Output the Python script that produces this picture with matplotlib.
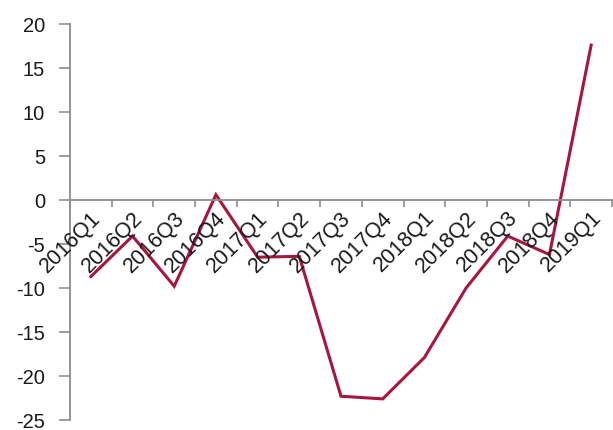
import matplotlib
matplotlib.use("Agg")
import matplotlib.pyplot as plt
import matplotlib.transforms as mtransforms
import numpy as np

quarters = ["2016Q1", "2016Q2", "2016Q3", "2016Q4", "2017Q1", "2017Q2", "2017Q3",
            "2017Q4", "2018Q1", "2018Q2", "2018Q3", "2018Q4", "2019Q1"]
values = [-8.7, -4.1, -9.8, 0.6, -6.5, -6.4, -22.3, -22.6, -17.9, -10.0, -4.1, -6.2, 17.6]
y_ticks = [20, 15, 10, 5, 0, -5, -10, -15, -20, -25]

LINE_COLOR = "#A5173F"
AXIS_COLOR = "#8c8c8c"

plt.rcParams["font.family"] = ["Liberation Sans", "DejaVu Sans"]

fig = plt.figure(figsize=(6.13, 4.30), dpi=100)
ax = fig.add_axes([70 / 613, 10 / 430, 542 / 613, 396 / 430])

x = np.arange(len(quarters))
ax.plot(x, values, color=LINE_COLOR, linewidth=2.2, solid_joinstyle="miter")

ax.set_xlim(-0.5, len(quarters) - 0.5)
ax.set_ylim(-25, 20)
ax.set_yticks(y_ticks)
ax.set_yticklabels([str(v) for v in y_ticks], fontsize=14.5, color="#1a1a1a")

# category axis sits at zero, ticks between categories
for side in ("top", "right"):
    ax.spines[side].set_visible(False)
ax.spines["bottom"].set_position(("data", 0))
for side in ("left", "bottom"):
    ax.spines[side].set_color(AXIS_COLOR)
    ax.spines[side].set_linewidth(1.3)

ax.set_xticks(np.arange(-0.5, len(quarters) + 0.5, 1))
ax.set_xticklabels([])
ax.tick_params(axis="x", direction="out", length=5, width=1.2, color=AXIS_COLOR)
ax.tick_params(axis="y", direction="out", length=8, width=1.2, color=AXIS_COLOR, pad=10)

offset = mtransforms.ScaledTranslation(7 / 100, -15 / 100, fig.dpi_scale_trans)
for i, q in enumerate(quarters):
    ax.text(i, 0, q, transform=ax.transData + offset, rotation=45,
            rotation_mode="anchor", ha="right", va="center",
            fontsize=15.5, color="#1a1a1a")

fig.savefig("out.png", dpi=100)
